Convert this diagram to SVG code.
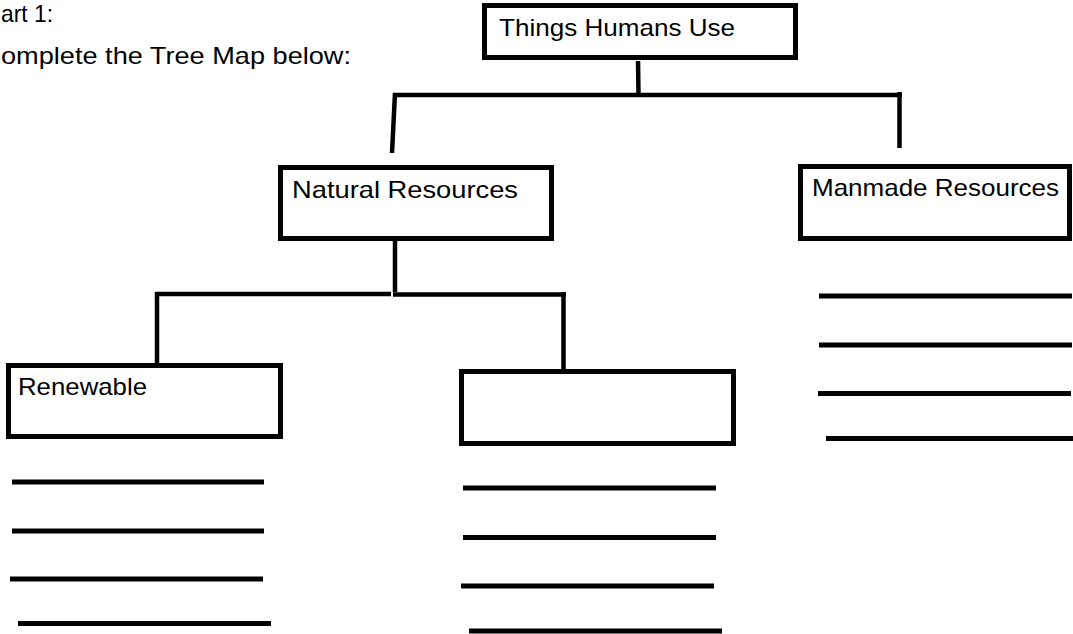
<svg xmlns="http://www.w3.org/2000/svg" width="1073" height="634" viewBox="0 0 1073 634">
  <style>
    .box { fill: #ffffff; stroke: #000000; stroke-width: 5; }
    .conn { stroke: #000000; stroke-width: 4.5; fill: none; stroke-linecap: butt; }
    .ans { stroke: #000000; stroke-width: 5; fill: none; }
    .lbl { font-family: "Liberation Sans", "DejaVu Sans", sans-serif; font-size: 24px; fill: #000000; }
  </style>
  <rect x="0" y="0" width="1073" height="634" fill="#ffffff"/>

  <g id="instructions">
    <text class="lbl" x="1" y="22" textLength="52" lengthAdjust="spacingAndGlyphs">art 1:</text>
    <text class="lbl" x="1" y="64" textLength="350" lengthAdjust="spacingAndGlyphs">omplete the Tree Map below:</text>
  </g>

  <g id="connectors">
    <line class="conn" x1="638" y1="61" x2="638.5" y2="95"/>
    <line class="conn" x1="393" y1="95" x2="902" y2="95"/>
    <line class="conn" x1="395" y1="93" x2="392" y2="153"/>
    <line class="conn" x1="899.5" y1="92" x2="899.5" y2="148"/>
    <line class="conn" x1="395" y1="240" x2="395" y2="292"/>
    <line class="conn" x1="155" y1="294" x2="391" y2="294"/>
    <line class="conn" x1="393" y1="294.5" x2="566" y2="294.5"/>
    <line class="conn" x1="157" y1="292" x2="157" y2="363"/>
    <line class="conn" x1="563.5" y1="292" x2="563.5" y2="370"/>
  </g>

  <g id="node-things-humans-use">
    <rect class="box" x="484.5" y="5.5" width="311" height="52"/>
    <text class="lbl" x="499" y="36" textLength="236" lengthAdjust="spacingAndGlyphs">Things Humans Use</text>
  </g>

  <g id="node-natural-resources">
    <rect class="box" x="280.5" y="167.5" width="271" height="71"/>
    <text class="lbl" x="292" y="198" textLength="226" lengthAdjust="spacingAndGlyphs">Natural Resources</text>
  </g>

  <g id="node-manmade-resources">
    <rect class="box" x="800.5" y="166.5" width="269" height="72"/>
    <text class="lbl" x="812" y="196" textLength="247" lengthAdjust="spacingAndGlyphs">Manmade Resources</text>
  </g>

  <g id="node-renewable">
    <rect class="box" x="8.5" y="365.5" width="272" height="71"/>
    <text class="lbl" x="18" y="395" textLength="129" lengthAdjust="spacingAndGlyphs">Renewable</text>
  </g>

  <g id="node-blank">
    <rect class="box" x="461.5" y="371.5" width="272" height="72"/>
  </g>

  <g id="answer-lines">
    <line class="ans" x1="12" y1="482" x2="264" y2="482"/>
    <line class="ans" x1="12" y1="531" x2="264" y2="531"/>
    <line class="ans" x1="10" y1="579" x2="263" y2="579"/>
    <line class="ans" x1="18" y1="623.5" x2="271" y2="623.5"/>

    <line class="ans" x1="463" y1="488" x2="716" y2="488"/>
    <line class="ans" x1="463" y1="537.5" x2="716" y2="537.5"/>
    <line class="ans" x1="461" y1="586" x2="714" y2="586"/>
    <line class="ans" x1="469" y1="631" x2="722" y2="631"/>

    <line class="ans" x1="819" y1="296" x2="1072" y2="296"/>
    <line class="ans" x1="819" y1="345" x2="1072" y2="345"/>
    <line class="ans" x1="818" y1="393.5" x2="1071" y2="393.5"/>
    <line class="ans" x1="826" y1="438.5" x2="1073" y2="438.5"/>
  </g>
</svg>
